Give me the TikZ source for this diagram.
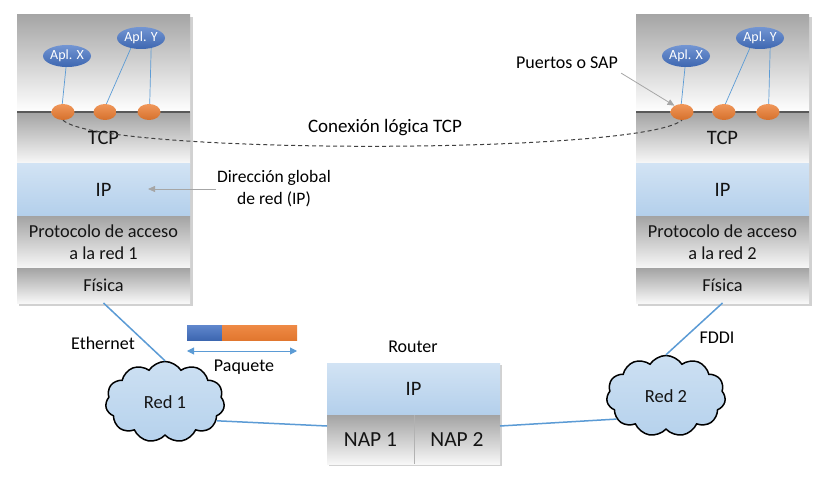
\documentclass[tikz,border=0pt]{standalone}
\usepackage{fontspec}
\setmainfont{Carlito}
\usetikzlibrary{shapes.geometric,shapes.symbols,arrows.meta,calc}
\definecolor{ipTop}{HTML}{D2E3F4}
\definecolor{ipBot}{HTML}{B3CFEB}
\definecolor{linkblue}{HTML}{5B9BD5}
\definecolor{portor}{HTML}{ED7D31}
\definecolor{aplblue}{HTML}{4472C4}
\definecolor{cloudfill}{HTML}{C0D8EF}
\definecolor{txt}{HTML}{141414}
\definecolor{arrgray}{HTML}{A6A6A6}
\tikzset{
 sec/.style={rectangle, minimum width=173pt, inner sep=0pt, outer sep=0pt, text=txt, align=center},
 graysec/.style={sec, top color=black!36, bottom color=black!3},
 ipsec/.style={sec, top color=ipTop, bottom color=ipBot},
 big/.style={font=\fontsize{20.5}{24}\selectfont},
 mid/.style={font=\fontsize{18.3}{22}\selectfont},
 napf/.style={font=\fontsize{21.5}{25}\selectfont},
 lbl/.style={font=\fontsize{18}{21.5}\selectfont, inner sep=1pt, align=center, text=black},
 port/.style={ellipse, minimum width=23pt, minimum height=16pt, inner sep=0pt, top color=portor!80!white, bottom color=portor!90!black},
 apl/.style={ellipse, minimum width=48pt, minimum height=22pt, inner sep=0pt, top color=aplblue!75!white, bottom color=aplblue!90!black, text=white, font=\fontsize{14}{16}\selectfont},
 applink/.style={draw=linkblue, line width=0.7pt},
 netlink/.style={draw=linkblue, line width=1.5pt},
 grayarrow/.style={draw=arrgray, line width=0.8pt, -{Triangle[length=7pt,width=6pt]}},
 netcloud/.style={cloud, cloud puffs=11, cloud puff arc=115, aspect=1.45, draw=black, line width=1.5pt, top color=cloudfill!80!white, bottom color=cloudfill!90!linkblue, minimum width=119pt, minimum height=81pt, inner sep=0pt, font=\fontsize{18.5}{22}\selectfont, text=txt},
}
\newcommand\protostack[3]{%
\begin{scope}[shift={(#2,0)}]
 \fill[black,opacity=.18] (2,17) rectangle (175.5,305.5);
 \node[sec, top color=black!35, bottom color=white, minimum height=97pt] (#1top) at (86.5,63.5) {};
 \node[graysec, minimum height=51pt, big] (#1tcp) at (86.5,137.5) {TCP};
 \draw[black!65, line width=1.2pt] (#1tcp.north west) -- (#1tcp.north east);
 \node[ipsec, minimum height=53pt, big] (#1ip) at (86.5,189.5) {IP};
 \node[graysec, minimum height=52pt, mid] (#1pr) at (86.5,242) {Protocolo de acceso\\a la red #3};
 \node[graysec, minimum height=35pt, mid] (#1fis) at (86.5,285.5) {Física};
 \node[port] (#1p1) at (46,112) {};
 \node[port] (#1p2) at (88,112) {};
 \node[port] (#1p3) at (132,112) {};
 \node[apl] (#1ax) at (50,56) {Apl. X};
 \node[apl] (#1ay) at (124,38) {Apl. Y};
 \draw[applink] (#1ax.265) -- (#1p1.95);
 \draw[applink] (#1ay.225) -- (#1p2.80);
 \draw[applink] (#1ay.315) -- (#1p3.85);
\end{scope}}
\begin{document}
\begin{tikzpicture}[x=1pt,y=-1pt]
\useasboundingbox (0,0) rectangle (831,487);
\fill[white] (0,0) rectangle (831,487);
\protostack{L}{17}{1}
\protostack{R}{636}{2}
% logical connection
\draw[black!75, line width=1pt, dash pattern=on 4pt off 3pt] (Lp1.south) .. controls (100,155) and (640,155) .. (Rp1.south);
\node[lbl, font=\fontsize{19}{22}\selectfont] (conx) at (385,128) {Conexión lógica TCP};
% labels with arrows
\node[lbl, font=\fontsize{17.5}{22}\selectfont] (dir) at (274,189) {Dirección global\\de red (IP)};
\coordinate (dirtip) at (148,189);
\draw[grayarrow] (dir.west |- dirtip) -- (dirtip);
\node[lbl] (sap) at (567,63) {Puertos o SAP};
\draw[grayarrow] ($(sap.south east)+(2,3)$) -- (Rp1.140);
% router
\node[lbl] (rtl) at (413,347) {Router};
\fill[black,opacity=.18] (329,365) rectangle (502,466);
\node[ipsec, minimum width=173pt, minimum height=52pt, big] (rip) at (413.5,389) {IP};
\node[graysec, minimum width=87pt, minimum height=49pt, napf] (nap1) at (370.5,439.5) {NAP 1};
\node[graysec, minimum width=86pt, minimum height=49pt, napf] (nap2) at (457,439.5) {NAP 2};
\draw[black!30, line width=0.8pt] (nap1.north east) -- (nap1.south east);
% packet
\node[rectangle, inner sep=0pt, minimum width=35pt, minimum height=15pt, top color=aplblue!85!white, bottom color=aplblue!90!black] (pkb) at (204.5,332.5) {};
\node[rectangle, inner sep=0pt, minimum width=75pt, minimum height=15pt, top color=portor!90!white, bottom color=portor!95!black] (pko) at (259.5,332.5) {};
\coordinate (pa1) at (187,351);
\coordinate (pa2) at (297,351);
\draw[draw=linkblue, line width=1pt, {Triangle[length=7pt,width=7pt]}-{Triangle[length=7pt,width=7pt]}] (pa1) -- (pa2);
\node[lbl] (paq) at (244,367) {Paquete};
% clouds
\node[netcloud] (red1) at (165,402) {Red 1\hspace{7pt}};
\node[netcloud] (red2) at (666,396) {Red 2\hspace{8pt}};
\node[lbl] (eth) at (103,343) {Ethernet};
\node[lbl] (fddi) at (717,338) {FDDI};
\draw[netlink] (Lfis.south) -- (red1.north);
\draw[netlink] (Rfis.south) -- (red2.north);
\draw[netlink] (red1.-20) -- ([yshift=13.5pt]nap1.west);
\draw[netlink] ([yshift=13.5pt]nap2.east) -- (red2.205);
\end{tikzpicture}
\end{document}
